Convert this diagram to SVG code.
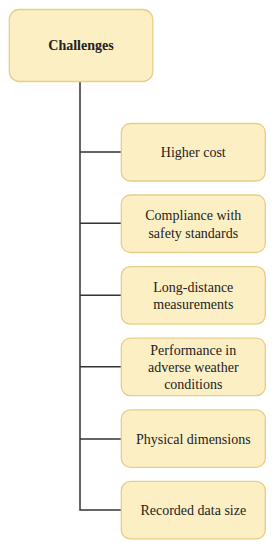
<svg xmlns="http://www.w3.org/2000/svg" width="274" height="550" viewBox="0 0 274 550">
<style>
.box{fill:#FDEFC4;stroke:#E6CE88;stroke-width:1.3}
.t{font-family:"Liberation Serif","Times New Roman",serif;font-size:14px;fill:#222;text-anchor:middle;dominant-baseline:central}
.b{font-weight:bold}
.c{stroke:#333;stroke-width:1.5;fill:none}
</style>
<rect x="0" y="0" width="274" height="550" fill="#fff"/>
<g id="connectors">
<path class="c" d="M80 82 V510.7 M80 152 H121 M80 223.3 H121 M80 295.3 H121 M80 366.7 H121 M80 439 H121 M80 510 H121"/>
</g>
<g id="challenges">
<rect class="box" x="9.3" y="9.5" width="143.5" height="72" rx="10"/>
<text class="t b" x="81" y="45.5">Challenges</text>
</g>
<g id="higher-cost">
<rect class="box" x="121.3" y="123.5" width="144" height="57.5" rx="9"/>
<text class="t" x="193.3" y="152">Higher cost</text>
</g>
<g id="compliance">
<rect class="box" x="121.3" y="195" width="144" height="57.5" rx="9"/>
<text class="t" x="193.3" y="215.5">Compliance with</text>
<text class="t" x="193.3" y="233.3">safety standards</text>
</g>
<g id="long-distance">
<rect class="box" x="121.3" y="266.6" width="144" height="57.5" rx="9"/>
<text class="t" x="193.3" y="287">Long-distance</text>
<text class="t" x="193.3" y="304.8">measurements</text>
</g>
<g id="performance">
<rect class="box" x="121.3" y="338.2" width="144" height="57.5" rx="9"/>
<text class="t" x="193.3" y="350">Performance in</text>
<text class="t" x="193.3" y="367">adverse weather</text>
<text class="t" x="193.3" y="384.5">conditions</text>
</g>
<g id="physical">
<rect class="box" x="121.3" y="409.8" width="144" height="57.5" rx="9"/>
<text class="t" x="193.3" y="439">Physical dimensions</text>
</g>
<g id="recorded">
<rect class="box" x="121.3" y="481.4" width="144" height="57.5" rx="9"/>
<text class="t" x="193.3" y="510.5">Recorded data size</text>
</g>
</svg>
